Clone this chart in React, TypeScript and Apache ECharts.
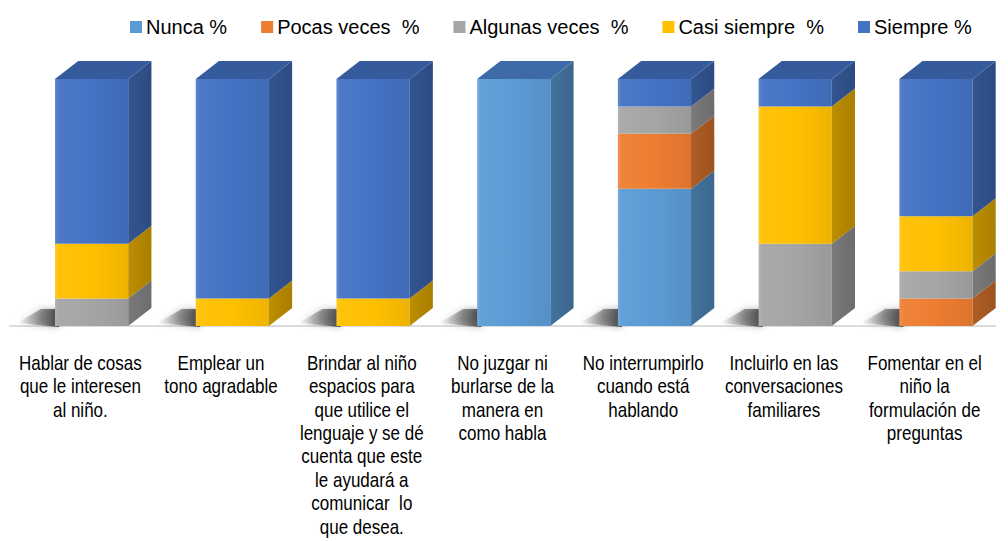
import React, { useEffect, useRef } from "react";
import * as echarts from "echarts";

const categories = [
  "Hablar de cosas\nque le interesen\nal niño.",
  "Emplear un\ntono agradable",
  "Brindar al niño\nespacios para\nque utilice el\nlenguaje y se dé\ncuenta que este\nle ayudará a\ncomunicar  lo\nque desea.",
  "No juzgar ni\nburlarse de la\nmanera en\ncomo habla",
  "No interrumpirlo\ncuando está\nhablando",
  "Incluirlo en las\nconversaciones\nfamiliares",
  "Fomentar en el\nniño la\nformulación de\npreguntas",
];

const seriesNames = ["Nunca %", "Pocas veces  %", "Algunas veces  %", "Casi siempre  %", "Siempre %"];
const seriesColors = ["#5B9BD5", "#ED7D31", "#A5A5A5", "#FFC000", "#4472C4"];

const nunca = [0, 0, 0, 100, 55.6, 0, 0];
const pocas = [0, 0, 0, 0, 22.2, 0, 11.1];
const algunas = [11.1, 0, 0, 0, 11.1, 33.3, 11.1];
const casiSiempre = [22.2, 11.1, 11.1, 0, 0, 55.6, 22.2];
const siempre = [66.7, 88.9, 88.9, 0, 11.1, 11.1, 55.6];

const allValues = [nunca, pocas, algunas, casiSiempre, siempre];

const FONT = "'Liberation Sans', Arial, sans-serif";

function shade(hex: string, f: number): string {
  const n = parseInt(hex.slice(1), 16);
  let r = (n >> 16) & 255, g = (n >> 8) & 255, b = n & 255;
  if (f >= 1) {
    const t = f - 1;
    r = Math.round(r + (255 - r) * t);
    g = Math.round(g + (255 - g) * t);
    b = Math.round(b + (255 - b) * t);
  } else {
    r = Math.round(r * f); g = Math.round(g * f); b = Math.round(b * f);
  }
  return `rgb(${r},${g},${b})`;
}

const DY = 18;

export default function App() {
  const ref = useRef<HTMLDivElement>(null);
  useEffect(() => {
    if (!ref.current) return;
    const chart = echarts.init(ref.current, undefined, { renderer: "svg" });

    const stacks: number[] = categories.map(() => 0);
    const topIndex: number[] = categories.map((_, i) => {
      let t = -1;
      allValues.forEach((arr, s) => { if (arr[i] > 0) t = s; });
      return t;
    });
    const segData = allValues.map((arr, s) =>
      arr.map((v, i) => {
        const start = stacks[i];
        const end = start + v;
        stacks[i] = end;
        return [i, start, end, topIndex[i] === s ? 1 : 0];
      })
    );

    const barSeries = seriesNames.map((name, s) => {
      const base = seriesColors[s];
      return {
        type: "custom",
        name,
        itemStyle: { color: base },
        data: segData[s],
        z: 3,
        renderItem: (params: any, api: any) => {
          const cat = api.value(0);
          const st = api.value(1);
          const en = api.value(2);
          const isTop = api.value(3);
          if (en - st <= 0) return null;
          const b = api.coord([cat, st]);
          const t = api.coord([cat, en]);
          const bw = api.size([1, 0])[0];
          const xl = b[0] - bw * 0.18;
          const xr = xl + bw * 0.52;
          const DX = bw * 0.165;
          const children: any[] = [];
          children.push({
            type: "rect",
            shape: { x: xl, y: t[1], width: xr - xl, height: b[1] - t[1] },
            style: {
              fill: {
                type: "linear", x: 0, y: 0, x2: 1, y2: 0,
                colorStops: [
                  { offset: 0, color: shade(base, 1.15) },
                  { offset: 0.05, color: shade(base, 1.05) },
                  { offset: 0.5, color: base },
                  { offset: 1, color: shade(base, 0.93) },
                ],
              },
            },
          });
          children.push({
            type: "polygon",
            shape: { points: [[xr, b[1]], [xr + DX, b[1] - DY], [xr + DX, t[1] - DY], [xr, t[1]]] },
            style: {
              fill: {
                type: "linear", x: 0, y: 0, x2: 1, y2: 0,
                colorStops: [
                  { offset: 0, color: shade(base, 0.74) },
                  { offset: 0.5, color: shade(base, 0.7) },
                  { offset: 1, color: shade(base, 0.66) },
                ],
              },
            },
          });
          if (isTop) {
            children.push({
              type: "polygon",
              shape: { points: [[xl, t[1]], [xl + DX, t[1] - DY], [xr + DX, t[1] - DY], [xr, t[1]]] },
              style: { fill: s === 0 ? "#3F6AA8" : shade(base, 0.8) },
            });
          }
          return { type: "group", children };
        },
      };
    });

    const shadowSeries = {
      type: "custom",
      name: "shadow",
      silent: true,
      z: 1,
      data: categories.map((_, i) => [i, 0]),
      renderItem: (params: any, api: any) => {
        const b = api.coord([api.value(0), api.value(1)]);
        const bw = api.size([1, 0])[0];
        const xl = b[0] - bw * 0.18;
        return {
          type: "polygon",
          shape: { points: [[xl - 38, b[1] - 3], [xl - 14, b[1] - 17], [xl + 4, b[1] - 17], [xl + 4, b[1] + 1]] },
          style: {
            fill: {
              type: "linear", x: 0, y: 0, x2: 1, y2: 0,
              colorStops: [
                { offset: 0, color: "rgba(90,90,90,0)" },
                { offset: 0.55, color: "rgba(70,70,70,0.5)" },
                { offset: 1, color: "rgba(40,40,40,0.8)" },
              ],
            },
            shadowBlur: 6,
            shadowColor: "rgba(60,60,60,0.6)",
          },
        };
      },
    };

    const labelSeries = {
      type: "custom",
      name: "labels",
      silent: true,
      z: 2,
      data: categories.map((_, i) => [i, 0]),
      renderItem: (params: any, api: any) => {
        const idx = api.value(0);
        const b = api.coord([idx, api.value(1)]);
        return {
          type: "text",
          x: b[0],
          y: b[1] + 25,
          scaleX: 0.81,
          style: {
            text: categories[idx],
            fontFamily: FONT,
            fontSize: 21,
            lineHeight: 23.4,
            fill: "#000",
            align: "center",
            verticalAlign: "top",
          },
        };
      },
    };

    chart.setOption({
      animation: false,
      backgroundColor: "#ffffff",
      legend: {
        data: seriesNames,
        left: 125,
        top: 12,
        itemWidth: 12,
        itemHeight: 12,
        itemGap: 34,
        icon: "rect",
        textStyle: { fontFamily: FONT, fontSize: 20, color: "#000", padding: [0, 0, 0, -1] },
      },
      grid: { left: 10, right: 13, top: 79, bottom: 215 },
      xAxis: {
        type: "category",
        data: categories,
        offset: 7,
        axisTick: { show: false },
        axisLine: { show: true, lineStyle: { color: "#DCDCDC", width: 2 } },
        axisLabel: { show: false },
      },
      yAxis: { type: "value", min: 0, max: 100, show: false },
      series: [shadowSeries, labelSeries, ...barSeries],
    });
    return () => chart.dispose();
  }, []);
  return (
    <div
      ref={ref}
      style={{ position: "absolute", left: 0, top: 0, width: 1008, height: 541 }}
    />
  );
}
